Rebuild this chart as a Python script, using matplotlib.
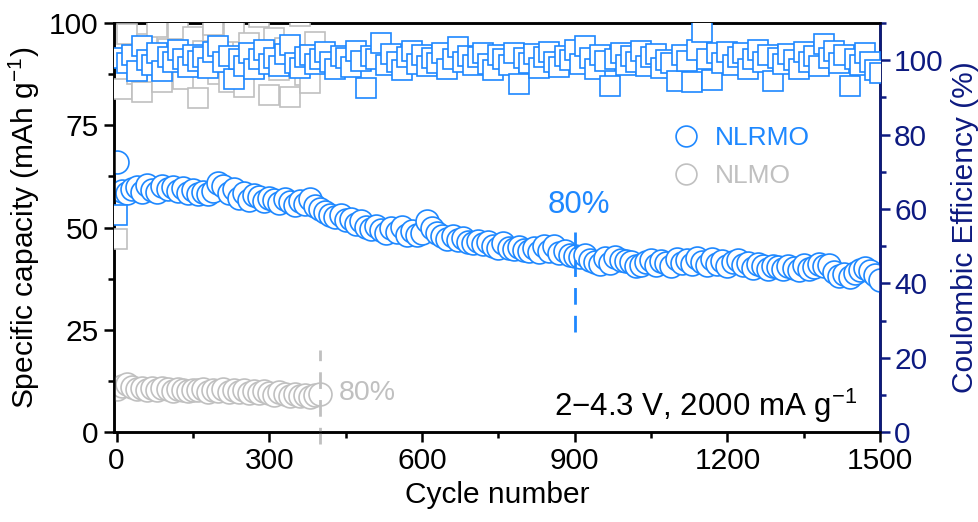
import matplotlib
matplotlib.use("Agg")
import matplotlib.pyplot as plt
from matplotlib.lines import Line2D
from matplotlib.ticker import MultipleLocator

plt.rcParams['font.family'] = ['Liberation Sans', 'DejaVu Sans']
plt.rcParams['mathtext.fontset'] = 'custom'
plt.rcParams['mathtext.rm'] = 'Liberation Sans'
plt.rcParams['mathtext.it'] = 'Liberation Sans:italic'
plt.rcParams['mathtext.default'] = 'regular'

BLUE = '#1E88FF'
GRAY = '#C0C0C0'
NAVY = '#0D1A80'

# ---------------- data ----------------
cycles_nlrmo = [1] + list(range(10, 1501, 10))
cap_nlrmo = [66.0, 59.0, 58.5, 59.5, 60.0, 58.8, 60.5, 59.2, 58.6, 60.2, 59.4,
             59.8, 58.9, 59.6, 58.4, 59.2, 58.1, 58.8, 58.3, 59.0, 61.0,
             60.2, 58.5, 59.5, 57.2, 58.4, 56.8, 57.9, 57.4, 56.6, 57.2,
             56.8, 55.9, 57.0, 56.2, 55.4, 56.5, 55.8, 56.9, 55.2, 54.6,
             53.8, 53.1, 52.6, 53.0, 51.8, 52.2, 50.9, 51.5, 50.2, 49.6,
             50.3, 49.4, 48.7, 49.8, 48.9, 50.1, 48.3, 49.2, 48.1, 48.8,
             51.5, 49.9, 48.6, 47.9, 47.2, 48.0, 46.9, 47.4, 46.6, 46.2,
             46.8, 45.9, 46.4, 45.6, 45.1, 46.2, 45.0, 44.7, 45.3, 44.6,
             44.2, 44.9, 44.0, 45.4, 44.3, 45.6, 43.8, 44.4, 43.2, 43.0,
             42.7, 43.3, 42.1, 41.6, 41.2, 42.6, 41.4, 42.9, 42.0, 41.8,
             41.5, 40.6, 40.9, 41.7, 42.2, 40.8, 41.9, 41.3, 40.7, 42.3,
             41.4, 42.0, 41.1, 42.5, 41.6, 40.9, 42.4, 41.2, 41.8, 40.6,
             41.7, 42.1, 40.8, 41.3, 40.2, 41.0, 40.5, 39.9, 40.7, 40.3,
             39.8, 40.6, 40.1, 39.6, 40.8, 39.9, 40.4, 41.1, 40.6, 40.9,
             39.2, 38.1, 38.6, 37.9, 38.8, 39.6, 40.2, 39.4, 38.5, 37.2]
ce_nlrmo = [58.4,
            100.5, 99.2, 101.3, 97.0, 103.8, 100.1, 98.6, 101.8, 97.2, 100.9,
            99.4, 102.6, 100.3, 98.1, 101.5, 99.7, 100.8, 97.9, 102.2, 103.8,
            99.6, 101.1, 95.0, 100.4, 98.3, 101.9, 97.5, 100.2, 102.8, 99.1,
            100.7, 98.4, 101.6, 104.0, 99.3, 97.8, 100.9, 101.4, 98.9, 100.3,
            102.1, 99.5, 97.6, 101.2, 100.6, 98.2, 102.4, 99.8, 92.5, 101.0,
            100.2, 104.6, 98.7, 101.7, 99.4, 97.3, 100.8, 102.5, 99.0, 101.3,
            98.5, 100.6, 99.2, 101.9, 97.7, 100.4, 103.5, 99.6, 101.2, 98.8,
            100.9, 102.0, 99.1, 97.4, 101.5, 100.2, 98.6, 101.8, 93.6, 100.5,
            99.3, 101.6, 97.9, 100.8, 102.3, 99.5, 98.2, 101.1, 100.0, 102.6,
            99.0, 103.8, 100.7, 97.6, 101.4, 99.8, 93.0, 100.3, 102.0, 98.7,
            101.2, 99.6, 102.4, 98.3, 100.9, 101.7, 97.8, 100.1, 99.3, 94.4,
            101.5, 99.9, 94.2, 102.6, 107.6, 100.4, 94.6, 101.8, 99.2, 102.1,
            98.6, 100.8, 101.9, 97.5, 100.2, 102.7, 99.4, 101.3, 94.5, 100.6,
            98.9, 101.6, 100.1, 97.7, 102.2, 99.5, 101.0, 98.4, 104.3, 100.7,
            102.4, 99.2, 101.5, 93.0, 100.3, 98.8, 101.9, 99.6, 97.4, 96.5]

cycles_nlmo = [1] + list(range(10, 401, 10))
cap_nlmo = [10.5, 11.2, 11.8, 11.0, 10.6, 10.9, 10.4, 10.8, 10.2, 10.7, 10.5,
            10.1, 10.6, 10.3, 10.0, 10.4, 10.2, 10.6, 9.9, 10.3, 10.1,
            10.5, 9.8, 10.2, 9.9, 10.4, 9.7, 10.0, 9.6, 10.1, 9.5,
            9.2, 9.8, 9.4, 8.9, 9.3, 8.8, 9.1, 8.7, 9.0, 9.4]
ce_nlmo = [52.0,
           92.3, 107.0, 101.5, 96.2, 91.5, 104.3, 99.0, 108.8, 94.2, 103.1,
           97.5, 108.5, 95.0, 100.6, 106.2, 89.8, 102.4, 98.1, 109.5, 96.3,
           103.0, 94.1, 107.6, 99.2, 92.8, 104.5, 98.0, 111.5, 100.7, 90.6,
           106.0, 97.3, 103.2, 90.0, 101.4, 112.0, 96.1, 93.8, 105.0, 99.4]

x_ticks = [0, 300, 600, 900, 1200, 1500]
left_ticks = [0, 25, 50, 75, 100]
right_ticks = [0, 20, 40, 60, 80, 100]

# 80 % retention markers
ret_nlrmo_cycle, ret_nlrmo_span = 900, (24.5, 51)
ret_nlmo_cycle, ret_nlmo_span = 400, (-3, 20)

FS = 21.5
SUP = '$^{\u22121}$'

# ---------------- figure ----------------
fig = plt.figure(figsize=(9.79, 5.22), dpi=100)
ax = fig.add_axes([0.1165, 0.172, 0.7825, 0.784])
ax2 = ax.twinx()

ms_c, ms_s, mew = 16.5, 13.8, 1.2
ax.plot(cycles_nlmo, cap_nlmo, 'o', ms=ms_c, mfc='white', mec=GRAY, mew=mew, zorder=3)
ax.plot(cycles_nlrmo, cap_nlrmo, 'o', ms=ms_c, mfc='white', mec=BLUE, mew=mew, zorder=4)
ax2.plot(cycles_nlmo, ce_nlmo, 's', ms=ms_s, mfc='white', mec=GRAY, mew=mew, zorder=3)
ax2.plot(cycles_nlrmo, ce_nlrmo, 's', ms=ms_s, mfc='white', mec=BLUE, mew=mew, zorder=4)

ax.plot([ret_nlrmo_cycle] * 2, ret_nlrmo_span, ls=(0, (6, 4)), color=BLUE, lw=2, zorder=5)
ax.plot([ret_nlmo_cycle] * 2, ret_nlmo_span, ls=(0, (6, 4)), color=GRAY, lw=2,
        zorder=5, clip_on=False)

ax.text(ret_nlrmo_cycle + 8, 55.5, '80%', color=BLUE, fontsize=22.5, ha='center', va='center')
ax.text(ret_nlmo_cycle + 36, 9.5, '80%', color=GRAY, fontsize=20.5, ha='left', va='center')
ax.text(0.97, 0.04, '2\u22124.3 V, 2000 mA g' + SUP, transform=ax.transAxes,
        fontsize=22.5, ha='right', va='baseline', color='black')

ax.set_xlim(-5, 1500)
ax.set_ylim(0, 100)
ax2.set_ylim(0, 110)

ax.set_xticks(x_ticks)
ax.set_yticks(left_ticks)
ax2.set_yticks(right_ticks)
ax.xaxis.set_minor_locator(MultipleLocator(150))
ax.yaxis.set_minor_locator(MultipleLocator(12.5))
ax2.yaxis.set_minor_locator(MultipleLocator(10))

ax.set_xlabel('Cycle number', fontsize=FS, labelpad=4)
ax.set_ylabel('Specific capacity (mAh g' + SUP + ')', fontsize=FS, labelpad=5)
ax2.set_ylabel('Coulombic Efficiency (%)', fontsize=FS, color=NAVY, labelpad=5)

for a in (ax, ax2):
    for s in a.spines.values():
        s.set_linewidth(1.8)
ax2.spines['right'].set_color(NAVY)
ax.tick_params(axis='both', which='major', direction='out', length=7, width=1.8,
               labelsize=FS, pad=4)
ax.tick_params(axis='both', which='minor', direction='out', length=4, width=1.8)
ax2.tick_params(axis='y', which='major', direction='out', length=7, width=1.8,
                labelsize=FS, colors=NAVY, pad=3)
ax2.tick_params(axis='y', which='minor', direction='out', length=4, width=1.8, colors=NAVY)

handles = [Line2D([], [], ls='none', marker='o', ms=15, mfc='white', mec=BLUE, mew=mew),
           Line2D([], [], ls='none', marker='o', ms=15, mfc='white', mec=GRAY, mew=mew)]
leg = ax2.legend(handles, ['NLRMO', 'NLMO'], loc='center left',
                 bbox_to_anchor=(0.709, 0.672), frameon=False, fontsize=19,
                 handletextpad=0.5, labelspacing=0.55, borderpad=0, handlelength=1.2)
for t, c in zip(leg.get_texts(), [BLUE, GRAY]):
    t.set_color(c)

fig.savefig('out.png', dpi=100)
